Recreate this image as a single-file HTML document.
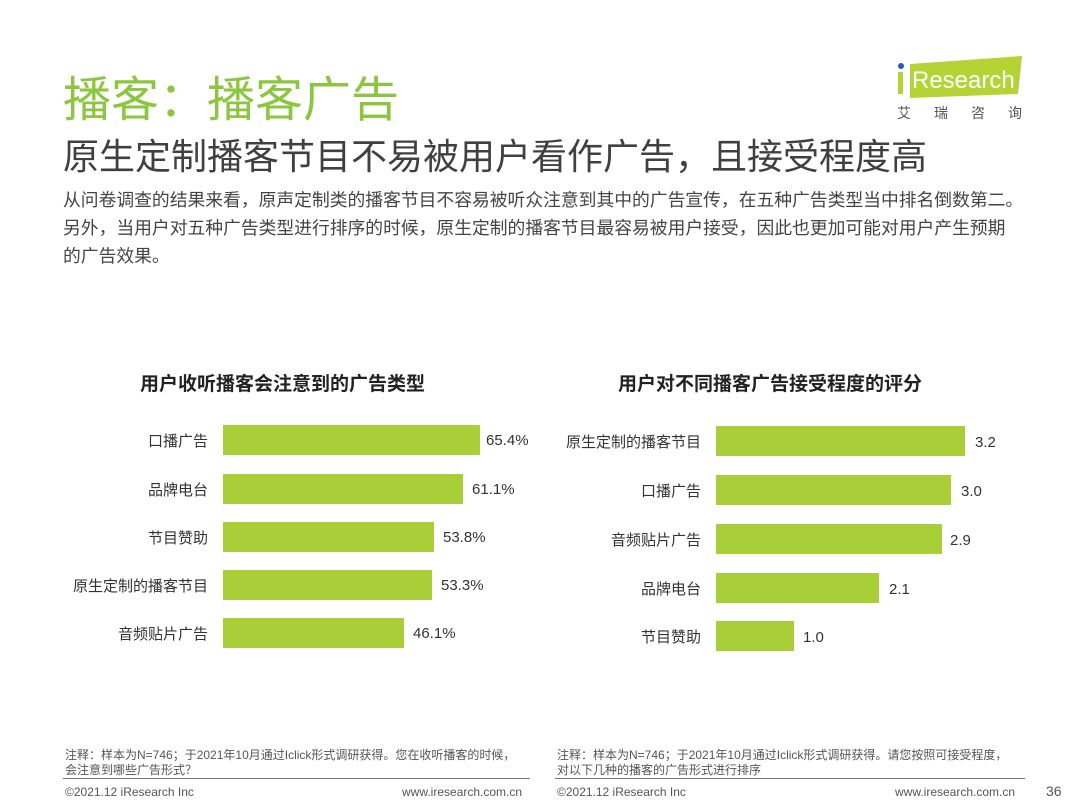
<!DOCTYPE html>
<html><head><meta charset="utf-8"><style>
body{margin:0;width:1080px;height:810px;background:#fff;position:relative;overflow:hidden;font-family:"Liberation Sans","Noto Sans CJK SC",sans-serif;color:#404040}
.a{position:absolute;white-space:nowrap}
.bar{position:absolute;height:30px;background:#a9cf38}
.lab{position:absolute;font-size:15px;color:#333;text-align:right;width:200px}
.val{position:absolute;font-size:15px;color:#333}
</style></head><body>
<div class="a" style="left:63px;top:60px;font-size:48px;color:#8cc63f">播客：播客广告</div>
<div class="a" style="left:63px;top:128px;font-size:36px;color:#404040">原生定制播客节目不易被用户看作广告，且接受程度高</div>
<div class="a" style="left:63px;top:186px;font-size:17.8px;line-height:28px;color:#444">从问卷调查的结果来看，原声定制类的播客节目不容易被听众注意到其中的广告宣传，在五种广告类型当中排名倒数第二。<br>另外，当用户对五种广告类型进行排序的时候，原生定制的播客节目最容易被用户接受，因此也更加可能对用户产生预期<br>的广告效果。</div>
<svg class="a" style="left:896px;top:56px" width="130" height="42"><polygon points="14,8 126,0 122,38 14,42" fill="#b5d334"/><circle cx="5" cy="10" r="3" fill="#2a5caa"/><rect x="2" y="16" width="5" height="22" fill="#b5d334"/><text x="16" y="32" font-family="Liberation Sans" font-size="24" fill="#fff">Research</text></svg>
<div class="a" style="left:897px;top:103px;font-size:14px;color:#555;letter-spacing:23px">艾瑞咨询</div>
<div class="a" style="left:140px;top:369px;font-size:19px;font-weight:bold;color:#222">用户收听播客会注意到的广告类型</div>
<div class="a" style="left:618px;top:369px;font-size:19px;font-weight:bold;color:#222">用户对不同播客广告接受程度的评分</div>

<div class="lab" style="left:8px;top:430px">口播广告</div><div class="bar" style="left:223px;top:425px;width:257px"></div><div class="val" style="left:486px;top:432px">65.4%</div>
<div class="lab" style="left:8px;top:479px">品牌电台</div><div class="bar" style="left:223px;top:474px;width:240px"></div><div class="val" style="left:472px;top:481px">61.1%</div>
<div class="lab" style="left:8px;top:527px">节目赞助</div><div class="bar" style="left:223px;top:522px;width:211px"></div><div class="val" style="left:443px;top:529px">53.8%</div>
<div class="lab" style="left:8px;top:575px">原生定制的播客节目</div><div class="bar" style="left:223px;top:570px;width:209px"></div><div class="val" style="left:441px;top:577px">53.3%</div>
<div class="lab" style="left:8px;top:623px">音频贴片广告</div><div class="bar" style="left:223px;top:618px;width:181px"></div><div class="val" style="left:413px;top:625px">46.1%</div>

<div class="lab" style="left:501px;top:431px">原生定制的播客节目</div><div class="bar" style="left:716px;top:426px;width:249px"></div><div class="val" style="left:975px;top:434px">3.2</div>
<div class="lab" style="left:501px;top:480px">口播广告</div><div class="bar" style="left:716px;top:475px;width:235px"></div><div class="val" style="left:961px;top:483px">3.0</div>
<div class="lab" style="left:501px;top:529px">音频贴片广告</div><div class="bar" style="left:716px;top:524px;width:226px"></div><div class="val" style="left:950px;top:532px">2.9</div>
<div class="lab" style="left:501px;top:578px">品牌电台</div><div class="bar" style="left:716px;top:573px;width:163px"></div><div class="val" style="left:889px;top:581px">2.1</div>
<div class="lab" style="left:501px;top:626px">节目赞助</div><div class="bar" style="left:716px;top:621px;width:78px"></div><div class="val" style="left:803px;top:629px">1.0</div>

<div class="a" style="left:65px;top:748px;font-size:12px;line-height:15px;color:#555">注释：样本为N=746；于2021年10月通过Iclick形式调研获得。您在收听播客的时候，<br>会注意到哪些广告形式？</div>
<div class="a" style="left:557px;top:748px;font-size:12px;line-height:15px;color:#555">注释：样本为N=746；于2021年10月通过Iclick形式调研获得。请您按照可接受程度，<br>对以下几种的播客的广告形式进行排序</div>
<div class="a" style="left:63px;top:778px;width:467px;border-top:1px solid #777"></div>
<div class="a" style="left:555px;top:778px;width:470px;border-top:1px solid #777"></div>
<div class="a" style="left:65px;top:785px;font-size:12px;color:#555">©2021.12 iResearch Inc</div>
<div class="a" style="left:402px;top:785px;font-size:12px;color:#555">www.iresearch.com.cn</div>
<div class="a" style="left:557px;top:785px;font-size:12px;color:#555">©2021.12 iResearch Inc</div>
<div class="a" style="left:895px;top:785px;font-size:12px;color:#555">www.iresearch.com.cn</div>
<div class="a" style="left:1046px;top:783px;font-size:14px;color:#555">36</div>
</body></html>
